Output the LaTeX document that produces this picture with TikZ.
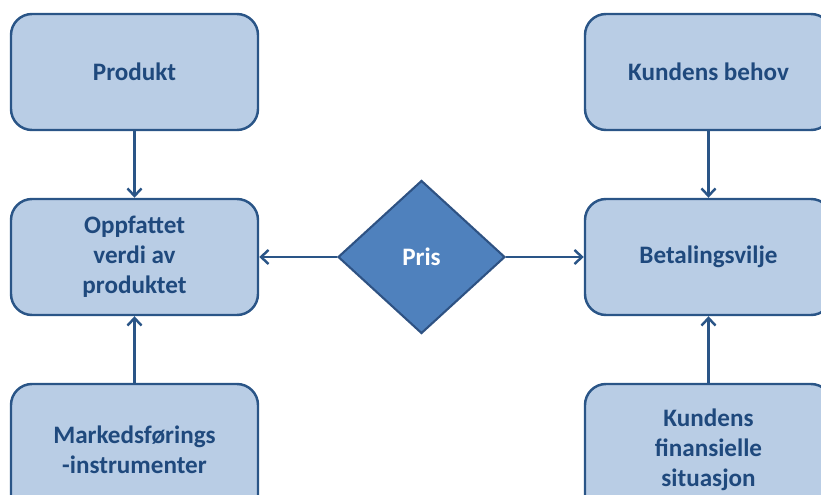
\documentclass[tikz,border=0pt]{standalone}
\usepackage{fontspec}
\setmainfont{Carlito}
\usetikzlibrary{arrows.meta, positioning, shapes.geometric}
\definecolor{boxfill}{HTML}{B9CDE5}
\definecolor{boxline}{HTML}{2A5587}
\definecolor{prisfill}{HTML}{4F81BD}
\definecolor{prisline}{HTML}{2E5283}
\definecolor{txtblue}{HTML}{1F497D}

\begin{document}
\begin{tikzpicture}[
  box/.style={draw=boxline, fill=boxfill, line width=1.4pt, rounded corners=0.42cm,
    minimum width=4.94cm, minimum height=2.32cm, inner sep=0pt, align=center,
    text=txtblue, font=\fontsize{14.3}{17}\selectfont\bfseries},
  link/.style={draw=boxline, line width=1.4pt, -{Straight Barb[length=1.5mm,width=2.8mm]}}]
\clip (0,0) rectangle (16.42,9.9);
% left column
\node[box] (produkt) at (2.69,8.46) {Produkt};
\node[box] (verdi) at (2.69,4.76) {Oppfattet\\verdi av\\produktet};
\node[box, minimum height=2.64cm] (markeds) at (2.69,0.9) {Markedsførings\\-instrumenter};
% right column
\node[box] (behov) at (14.17,8.46) {Kundens behov};
\node[box] (vilje) at (14.17,4.76) {Betalingsvilje};
\node[box, minimum height=2.64cm] (finans) at (14.17,0.9) {Kundens\\finansielle\\situasjon};
% price in the middle
\node[diamond, draw=prisline, fill=prisfill, line width=1.2pt, minimum width=3.34cm,
  minimum height=3.06cm, inner sep=0pt, text=white,
  font=\fontsize{14.3}{17}\selectfont\bfseries] (pris) at (8.43,4.76) {Pris};
\draw[link] (produkt) -- (verdi);
\draw[link] (markeds) -- (verdi);
\draw[link] (behov) -- (vilje);
\draw[link] (finans) -- (vilje);
\draw[link] (pris) -- (verdi);
\draw[link] (pris) -- (vilje);
\end{tikzpicture}
\end{document}
